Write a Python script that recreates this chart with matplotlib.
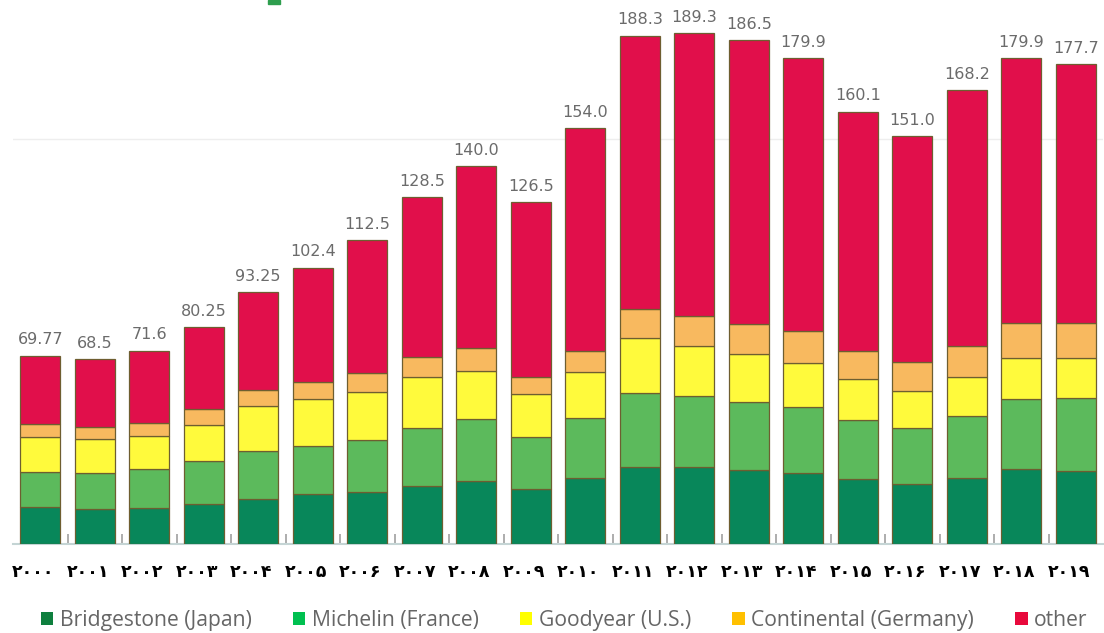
import matplotlib
matplotlib.use('Agg')
import matplotlib.pyplot as plt
import matplotlib.transforms as mtransforms
from matplotlib.patches import Patch, Rectangle
import numpy as np

years = ['۲۰۰۰', '۲۰۰۱', '۲۰۰۲', '۲۰۰۳', '۲۰۰۴', '۲۰۰۵', '۲۰۰۶', '۲۰۰۷', '۲۰۰۸', '۲۰۰۹',
         '۲۰۱۰', '۲۰۱۱', '۲۰۱۲', '۲۰۱۳', '۲۰۱۴', '۲۰۱۵', '۲۰۱۶', '۲۰۱۷', '۲۰۱۸', '۲۰۱۹']
totals = [69.77, 68.5, 71.6, 80.25, 93.25, 102.4, 112.5, 128.5, 140.0, 126.5,
          154.0, 188.3, 189.3, 186.5, 179.9, 160.1, 151.0, 168.2, 179.9, 177.7]
total_labels = ['69.77', '68.5', '71.6', '80.25', '93.25', '102.4', '112.5', '128.5', '140.0', '126.5',
                '154.0', '188.3', '189.3', '186.5', '179.9', '160.1', '151.0', '168.2', '179.9', '177.7']
bridgestone = [13.7, 13.0, 13.3, 14.8, 16.7, 18.5, 19.3, 21.5, 23.3, 20.4,
               24.4, 28.5, 28.5, 27.4, 26.3, 24.1, 22.2, 24.4, 27.8, 27.0]
michelin = [13.0, 13.3, 14.5, 15.9, 17.8, 17.8, 19.2, 21.5, 23.0, 19.2,
            22.3, 27.4, 26.3, 25.2, 24.4, 21.8, 20.8, 23.0, 25.9, 27.1]
goodyear = [12.9, 12.6, 12.2, 13.4, 16.7, 17.4, 17.8, 18.9, 17.8, 16.0,
            17.0, 20.4, 18.5, 17.8, 16.3, 15.2, 13.7, 14.5, 15.2, 14.8]
continental = [4.8, 4.4, 4.8, 5.9, 5.9, 6.3, 7.0, 7.4, 8.5, 6.3,
               7.8, 10.7, 11.1, 11.1, 11.9, 10.4, 10.7, 11.4, 13.0, 13.0]
names = ['Bridgestone (Japan)', 'Michelin (France)', 'Goodyear (U.S.)', 'Continental (Germany)', 'other']

bar_cols = ['#08875a', '#5cba5c', '#fffa3c', '#f8b95f', '#e10f4b']
leg_cols = ['#0e7f3e', '#00c050', '#ffff00', '#ffc000', '#e8093c']

# "other" is whatever is left up to the total
other = [t - (a + b + c + d) for t, a, b, c, d in zip(totals, bridgestone, michelin, goodyear, continental)]
series = [bridgestone, michelin, goodyear, continental, other]

fig = plt.figure(figsize=(11.04, 6.33), dpi=100)
ax = fig.add_axes([13 / 1104, 89 / 633, 1090 / 1104, 544 / 633])

x = np.arange(len(years))
bottom = np.zeros(len(years))
for s, c in zip(series, bar_cols):
    ax.bar(x, s, 0.73, bottom=bottom, color=c, edgecolor='#6e5e30', linewidth=0.9, zorder=3)
    bottom += np.array(s)

for i, t in enumerate(totals):
    ax.annotate(total_labels[i], (x[i], t), xytext=(0, 6), textcoords='offset points',
                ha='center', va='bottom', fontsize=11.5, color='#6b6b6b')

ax.axhline(150, color='#eeeeee', lw=1, zorder=1)

ax.set_xlim(-0.5, 19.5)
ax.set_ylim(0, 201.5)
ax.set_yticks([])
ax.set_xticks(x)
ax.set_xticklabels(years, fontsize=12.5, fontweight='bold', family='DejaVu Sans')
ax.tick_params(axis='x', which='major', length=0, pad=14)
# the year labels sit a little left of the bar centres
shift = mtransforms.ScaledTranslation(-7 / 100, 0, fig.dpi_scale_trans)
for lab in ax.get_xticklabels():
    lab.set_transform(lab.get_transform() + shift)
ax.set_xticks(x[:-1] + 0.5, minor=True)
ax.tick_params(axis='x', which='minor', direction='in', length=7, width=1.2, color='#a0a0a0')
for sp in ['top', 'right', 'left']:
    ax.spines[sp].set_visible(False)
ax.spines['bottom'].set_color('#c4d4d4')
ax.spines['bottom'].set_linewidth(1.5)

handles = [Patch(facecolor=c, edgecolor='none') for c in leg_cols]
fig.legend(handles, names, loc='center', bbox_to_anchor=(0.511, 0.02), ncol=5, frameon=False,
           handlelength=0.6, handleheight=0.6, handletextpad=0.3,
           columnspacing=1.95, labelcolor='#666666', prop={'family': 'Open Sans', 'size': 15.2})

# little green mark cut off at the top edge
fig.patches.append(Rectangle((268 / 1104, 1 - 4 / 633), 12 / 1104, 4 / 633,
                             transform=fig.transFigure, color='#2e9e4e'))

fig.savefig('out.png', dpi=100)
